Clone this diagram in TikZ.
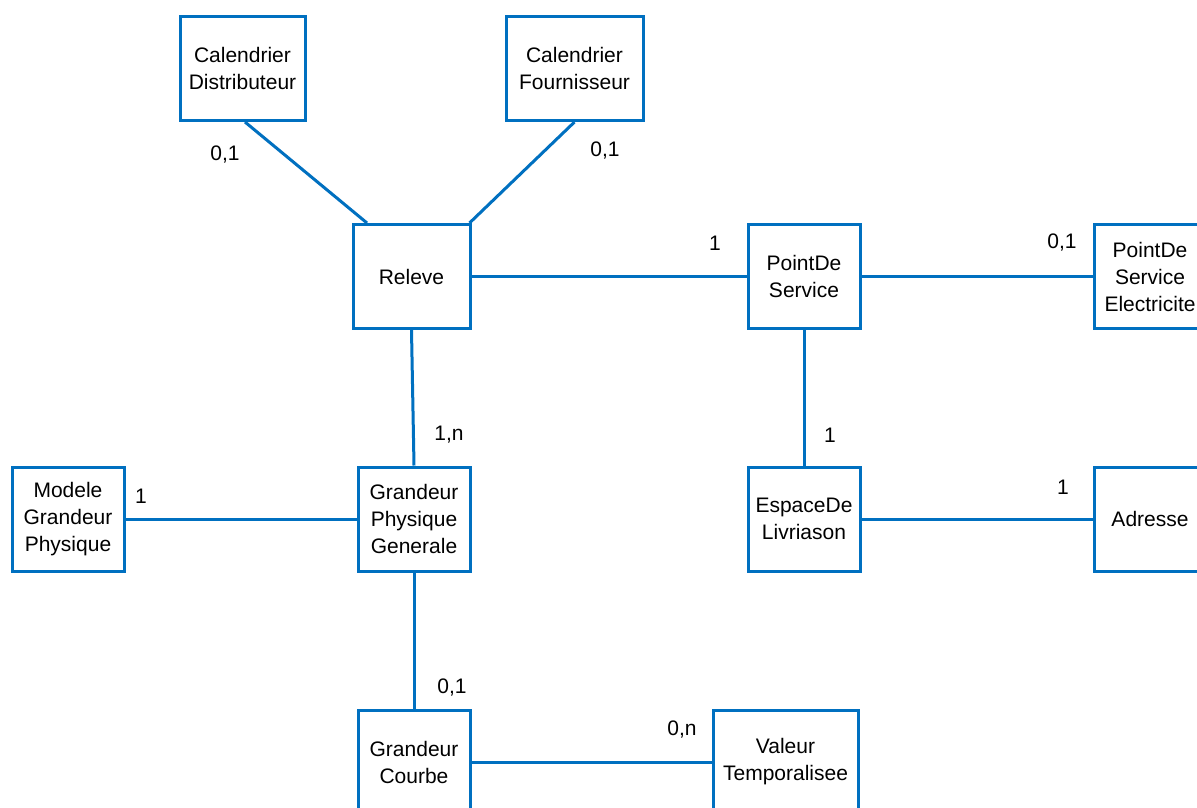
\documentclass[tikz,border=0pt]{standalone}
\usepackage{fontspec}
\setmainfont{Liberation Sans}
\definecolor{erblue}{RGB}{0,112,192}
\begin{document}
\begin{tikzpicture}[x=1pt,y=-1pt,
  box/.style={draw=erblue,line width=3pt,minimum height=104pt,inner sep=0pt,align=center,
    font=\fontsize{21pt}{27pt}\selectfont},
  link/.style={draw=erblue,line width=3pt},
  card/.style={font=\fontsize{21pt}{27pt}\selectfont,inner sep=0pt}]
\useasboundingbox (0,0) rectangle (1197,808);
\clip (0,0) rectangle (1197,808);
\fill[white] (0,0) rectangle (1197,808);
\node[box,minimum width=125pt] (cd) at (242.5,68.5) {Calendrier\\Distributeur};
\node[box,minimum width=137pt] (cf) at (574.5,68.5) {Calendrier\\Fournisseur};
\node[box,minimum width=117pt] (rel) at (411.5,276.5) {Releve};
\node[box,minimum width=112pt] (pds) at (804,276.5) {PointDe\\Service};
\node[box,minimum width=112pt] (pdse) at (1150,276.5) {PointDe\\Service\\Electricite};
\node[box,minimum width=112pt] (mgp) at (68,519) {Modele\\Grandeur\\Physique};
\node[box,minimum width=112pt] (gpg) at (414,519) {Grandeur\\Physique\\Generale};
\node[box,minimum width=112pt] (edl) at (804,519) {EspaceDe\\Livriason};
\node[box,minimum width=112pt] (adr) at (1150,519) {Adresse};
\node[box,minimum width=112pt] (gc) at (414,762) {Grandeur\\Courbe};
\node[box,minimum width=145pt] (vt) at (785.5,762) {Valeur\\Temporalisee};

\draw[link] ([xshift=2.5pt]cd.south) -- ([xshift=-44.5pt]rel.north);
\draw[link] (cf.south) -- ([xshift=58pt]rel.north);
\draw[link] (rel.east) -- (pds.west);
\draw[link] (pds.east) -- (pdse.west);
\draw[link] (pds.south) -- (edl.north);
\draw[link] (rel.south) -- (gpg.north);
\draw[link] (mgp.east) -- (gpg.west);
\draw[link] (edl.east) -- (adr.west);
\draw[link] (gpg.south) -- (gc.north);
\draw[link] (gc.east) -- (vt.west);

\node[card] (l1) at (225,155) {0,1};
\node[card] (l2) at (605,151) {0,1};
\node[card] (l3) at (715,243) {1};
\node[card] (l4) at (1062,243) {0,1};
\node[card] (l5) at (449,435) {1,n};
\node[card] (l6) at (830,435) {1};
\node[card] (l7) at (141,496) {1};
\node[card] (l8) at (1063,487) {1};
\node[card] (l9) at (452,688) {0,1};
\node[card] (l10) at (682,730) {0,n};
\end{tikzpicture}
\end{document}
